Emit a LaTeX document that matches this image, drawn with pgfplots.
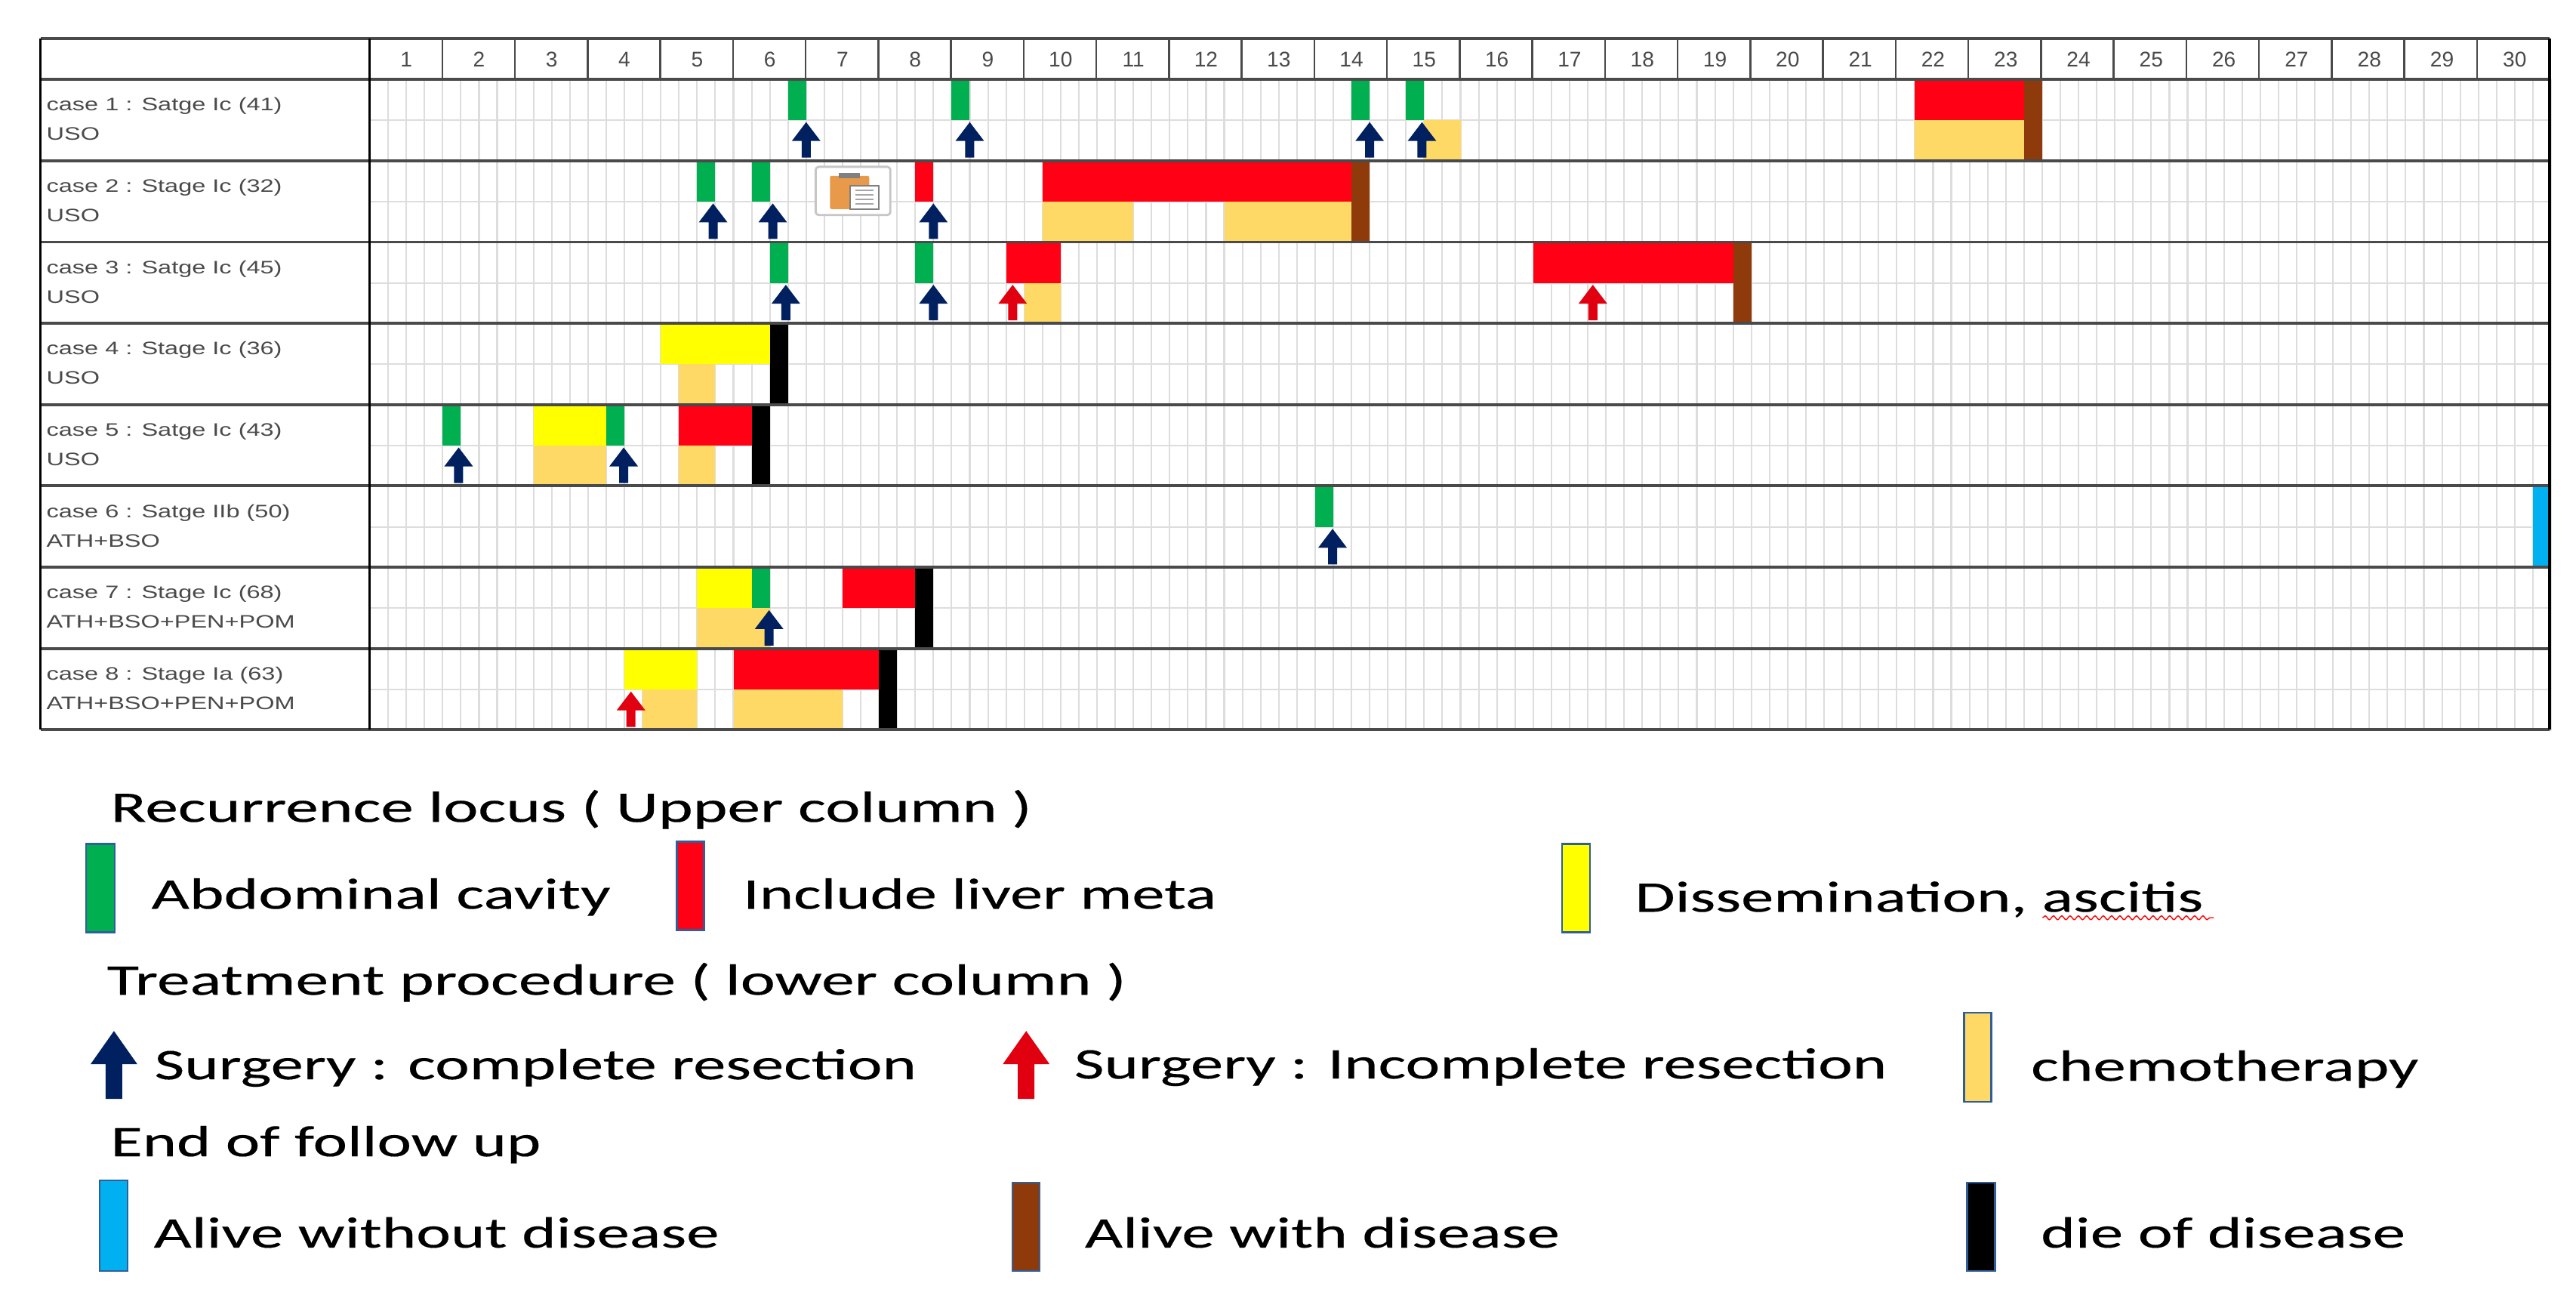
\documentclass[border=0pt]{standalone}
\usepackage{fontspec}
\usepackage{graphicx}
\usepackage{pgfplots}
\pgfplotsset{compat=1.18}
\usetikzlibrary{decorations.pathmorphing}
\setmainfont{Liberation Sans}
\newfontfamily\legfont[FakeBold=0.2]{Carlito}

\definecolor{cgreen}{HTML}{00B050}
\definecolor{cred}{HTML}{FF0014}
\definecolor{cyellow}{HTML}{FFFF00}
\definecolor{cchemo}{HTML}{FFD966}
\definecolor{cbrown}{HTML}{8F3A0A}
\definecolor{cblue}{HTML}{00B0F0}
\definecolor{cnavy}{HTML}{002060}
\definecolor{carrow}{HTML}{E0000F}
\definecolor{cgrid}{HTML}{DDDDDD}
\definecolor{cline}{HTML}{4A4A4A}
\definecolor{ckey}{HTML}{2F5F9A}

% one block of a row: colour, from, to, top, bottom (y counts rows downwards)
\newcommand{\seg}[5]{\addplot[fill=#1,draw=none,forget plot] coordinates {(#2,#4) (#3,#4) (#3,#5) (#2,#5)};}

\pgfdeclareplotmark{uparrow}{%
  \pgfpathmoveto{\pgfpoint{-.06cm}{0cm}}
  \pgfpathlineto{\pgfpoint{.06cm}{0cm}}
  \pgfpathlineto{\pgfpoint{.06cm}{.22cm}}
  \pgfpathlineto{\pgfpoint{.19cm}{.22cm}}
  \pgfpathlineto{\pgfpoint{0cm}{.47cm}}
  \pgfpathlineto{\pgfpoint{-.19cm}{.22cm}}
  \pgfpathlineto{\pgfpoint{-.06cm}{.22cm}}
  \pgfpathclose
  \pgfusepathqfill}

% legend text: left px, right px, baseline px, text
\newcommand{\legt}[4]{%
  \pgfmathsetlengthmacro{\legw}{(#2-#1)*0.284528}%
  \node[anchor=base west,inner sep=0pt,text=black] at (#1,#3) {\resizebox{\legw}{\height}{\legfont\fontsize{16.5}{18}\selectfont #4}};}
% legend key: left px, right px, top px, bottom px, colour
\newcommand{\legk}[5]{\draw[ckey,line width=.7pt,fill=#5] (#1,#3) rectangle (#2,#4);}
% legend arrow: centre px, colour
\newcommand{\lega}[2]{\fill[#2] (#1-11,1456) -- (#1+11,1456) -- (#1+11,1410) -- (#1+31,1410) -- (#1,1366) -- (#1-31,1410) -- (#1-11,1410) -- cycle;}

\begin{document}
\begin{tikzpicture}
\useasboundingbox (0,0) rectangle (34.12cm,17.32cm);
\begin{axis}[
  at={(4.9cm,7.65cm)},anchor=south west,
  scale only axis,width=28.89cm,height=8.617cm,
  clip=false,
  xmin=0,xmax=30,ymin=0,ymax=8,y dir=reverse,
  xtick={0,...,30},xticklabels={},minor x tick num=3,
  ytick={0,...,8},yticklabels={},minor y tick num=1,
  grid=both,
  grid style={cgrid,line width=.6pt},
  minor grid style={cgrid,line width=.6pt},
  axis line style={draw=none},
  tick style={draw=none},
  xticklabel pos=upper,
  extra x ticks={0.5,1.5,2.5,3.5,4.5,5.5,6.5,7.5,8.5,9.5,10.5,11.5,12.5,13.5,14.5,15.5,16.5,17.5,18.5,19.5,20.5,21.5,22.5,23.5,24.5,25.5,26.5,27.5,28.5,29.5},
  extra x tick labels={1,2,3,4,5,6,7,8,9,10,11,12,13,14,15,16,17,18,19,20,21,22,23,24,25,26,27,28,29,30},
  extra x tick style={grid=none},
  x tick label style={font=\fontsize{8}{9}\selectfont,text=cline,anchor=base,yshift=0.17cm},
]
% case 1
\seg{cgreen}{5.75}{6}{0}{.5}
\seg{cgreen}{8}{8.25}{0}{.5}
\seg{cgreen}{13.5}{13.75}{0}{.5}
\seg{cgreen}{14.25}{14.5}{0}{.5}
\seg{cchemo}{14.5}{15}{.5}{1}
\seg{cred}{21.25}{22.75}{0}{.5}
\seg{cchemo}{21.25}{22.75}{.5}{1}
\seg{cbrown}{22.75}{23}{0}{1}
% case 2
\seg{cgreen}{4.5}{4.75}{1}{1.5}
\seg{cgreen}{5.25}{5.5}{1}{1.5}
\seg{cred}{7.5}{7.75}{1}{1.5}
\seg{cred}{9.25}{13.5}{1}{1.5}
\seg{cchemo}{9.25}{10.5}{1.5}{2}
\seg{cchemo}{11.75}{13.5}{1.5}{2}
\seg{cbrown}{13.5}{13.75}{1}{2}
% case 3
\seg{cgreen}{5.5}{5.75}{2}{2.5}
\seg{cgreen}{7.5}{7.75}{2}{2.5}
\seg{cred}{8.75}{9.5}{2}{2.5}
\seg{cchemo}{9}{9.5}{2.5}{3}
\seg{cred}{16}{18.75}{2}{2.5}
\seg{cbrown}{18.75}{19}{2}{3}
% case 4
\seg{cyellow}{4}{5.5}{3}{3.5}
\seg{cchemo}{4.25}{4.75}{3.5}{4}
\seg{black}{5.5}{5.75}{3}{4}
% case 5
\seg{cgreen}{1}{1.25}{4}{4.5}
\seg{cyellow}{2.25}{3.25}{4}{4.5}
\seg{cgreen}{3.25}{3.5}{4}{4.5}
\seg{cchemo}{2.25}{3.25}{4.5}{5}
\seg{cred}{4.25}{5.25}{4}{4.5}
\seg{cchemo}{4.25}{4.75}{4.5}{5}
\seg{black}{5.25}{5.5}{4}{5}
% case 6
\seg{cgreen}{13}{13.25}{5}{5.5}
\seg{cblue}{29.75}{30}{5}{6}
% case 7
\seg{cyellow}{4.5}{5.25}{6}{6.5}
\seg{cgreen}{5.25}{5.5}{6}{6.5}
\seg{cchemo}{4.5}{5.5}{6.5}{7}
\seg{cred}{6.5}{7.5}{6}{6.5}
\seg{black}{7.5}{7.75}{6}{7}
% case 8
\seg{cyellow}{3.5}{4.5}{7}{7.5}
\seg{cchemo}{3.75}{4.5}{7.5}{8}
\seg{cred}{5}{7}{7}{7.5}
\seg{cchemo}{5}{6.5}{7.5}{8}
\seg{black}{7}{7.25}{7}{8}
% surgery
\addplot[only marks,mark=uparrow,mark options={fill=cnavy,draw=none},forget plot] coordinates {
  (6,.96) (8.25,.96) (13.75,.96) (14.47,.96)
  (4.72,1.96) (5.54,1.96) (7.75,1.96)
  (5.72,2.96) (7.75,2.96)
  (1.22,4.96) (3.49,4.96)
  (13.24,5.96)
  (5.49,6.96)};
\addplot[only marks,mark=uparrow,mark options={fill=carrow,draw=none},forget plot] coordinates {
  (8.84,2.96) (16.82,2.96) (3.59,7.96)};
\end{axis}

\begin{scope}[x=0.01cm,y=-0.01cm,yshift=17.32cm]
% table frame
\foreach \r in {0,...,8}
  \draw[cline,line width=1.1pt] (53.6,{105.3+107.7*\r}) -- (3379,{105.3+107.7*\r});
\draw[cline,line width=1.1pt] (53.6,50.7) -- (3379,50.7);
\draw[black,line width=.8pt] (53.6,50.7) -- (53.6,967);
\draw[black,line width=.8pt] (490,50.7) -- (490,967);
\draw[black,line width=1.1pt] (3379,50.7) -- (3379,967);
\foreach \c in {1,...,29}
  \draw[cline,line width=.7pt] ({490+96.3*\c},50.7) -- ({490+96.3*\c},105.3);
% row titles
\foreach \r/\a/\b in {
  0/{case 1 : Satge Ic (41)}/USO,
  1/{case 2 : Stage Ic (32)}/USO,
  2/{case 3 : Satge Ic (45)}/USO,
  3/{case 4 : Stage Ic (36)}/USO,
  4/{case 5 : Satge Ic (43)}/USO,
  5/{case 6 : Satge IIb (50)}/ATH+BSO,
  6/{case 7 : Stage Ic (68)}/ATH+BSO+PEN+POM,
  7/{case 8 : Stage Ia (63)}/ATH+BSO+PEN+POM} {
  \node[anchor=base west,inner sep=0pt,text=cline] at (61,{147+107.7*\r}) {\scalebox{1.36}[1]{\fontsize{6.8}{8}\selectfont\a}};
  \node[anchor=base west,inner sep=0pt,text=cline] at (61,{186+107.7*\r}) {\scalebox{1.36}[1]{\fontsize{6.8}{8}\selectfont\b}};
}
% paste icon sitting on the table in the source
\draw[gray!45,line width=.8pt,fill=white,rounded corners=1.2pt] (1081,221) rectangle (1180,285);
\fill[orange!55!brown!80!white,rounded corners=.6pt] (1100,233) rectangle (1152,277);
\fill[gray] (1112,229) rectangle (1140,236);
\draw[gray,line width=.5pt,fill=white] (1127,246) rectangle (1165,277);
\foreach \l in {252,258,264,270} \draw[gray!70,line width=.4pt] (1134,\l) -- (1158,\l);

% legend
\legt{146}{1366}{1089}{Recurrence locus ( Upper column )}
\legk{114}{152}{1118}{1235}{cgreen}
\legt{200}{808}{1204}{Abdominal cavity}
\legk{897}{933}{1115}{1232}{cred}
\legt{984}{1611}{1204}{Include liver meta}
\legk{2070}{2107}{1118}{1235}{cyellow}
\legt{2166}{2919}{1208}{Dissemination, ascitis}
\draw[red,line width=.4pt,decorate,decoration={snake,segment length=.11cm,amplitude=.025cm}] (2707,1216) -- (2934,1216);
\legt{141}{1491}{1318}{Treatment procedure ( lower column )}
\lega{151}{cnavy}
\legt{204}{1213}{1430}{Surgery : complete resection}
\lega{1360}{carrow}
\legt{1423}{2499}{1429}{Surgery : Incomplete resection}
\legk{2603}{2639}{1342}{1460}{cchemo}
\legt{2691}{3204}{1432}{chemotherapy}
\legt{146}{716}{1532}{End of follow up}
\legk{132}{169}{1564}{1684}{cblue}
\legt{203}{952}{1653}{Alive without disease}
\legk{1342}{1378}{1567}{1684}{cbrown}
\legt{1437}{2066}{1653}{Alive with disease}
\legk{2607}{2644}{1567}{1684}{black}
\legt{2704}{3187}{1653}{die of disease}
\end{scope}
\end{tikzpicture}
\end{document}
